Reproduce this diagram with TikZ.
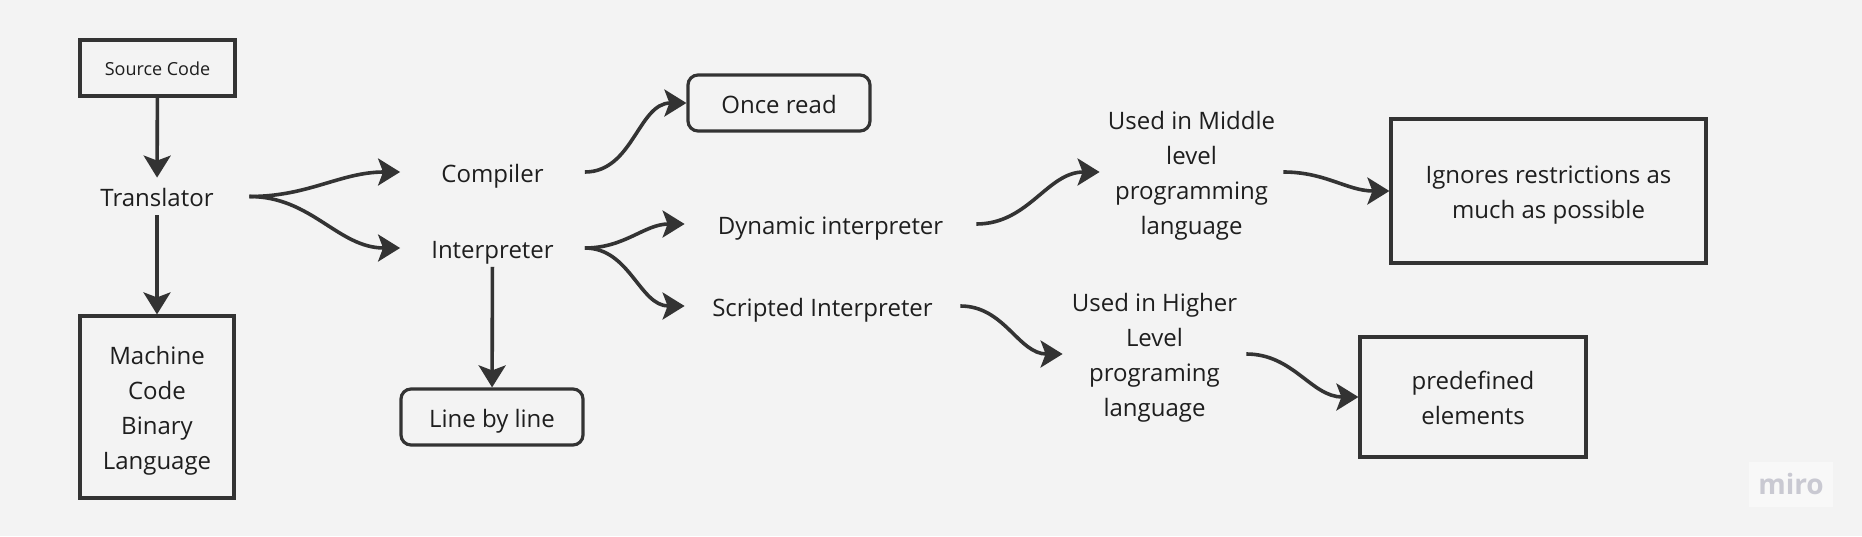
\documentclass[tikz,border=0pt]{standalone}
\usepackage{fontspec}
\setmainfont{Open Sans}
\usepackage{xcolor}
\usetikzlibrary{positioning,calc,arrows.meta}

\definecolor{bgcol}{HTML}{F3F3F3}
\definecolor{inkcol}{HTML}{333333}
\definecolor{textcol}{HTML}{1E1E1E}
\definecolor{mirocol}{HTML}{C9C9D2}

\begin{document}
\begin{tikzpicture}[
    x=0.5pt, y=-0.5pt,
    every node/.style={text=textcol, font=\fontsize{12}{17.5}\selectfont},
    oneline/.style={text height=13.4pt, text depth=3pt},
    twolines/.style={text height=30.9pt, text depth=3pt},
    fourlines/.style={text height=65.9pt, text depth=3pt},
    box/.style={rectangle, draw=inkcol, line width=1.6pt, align=center, inner sep=0pt},
    roundbox/.style={box, rounded corners=5pt},
    word/.style={rectangle, align=center, inner sep=0pt, minimum height=18.5pt},
    arrow/.style={-{Stealth[length=11pt, width=13.5pt, inset=2.5pt]}, draw=inkcol, line width=1.8pt}
]

% background and margins
\fill[bgcol] (0,0) rectangle (1862,536);

% left column
\node[box, oneline, minimum width=77.5pt, minimum height=28pt, font=\fontsize{9}{12}\selectfont, text height=10pt, text depth=2.2pt] (source) at (157.5,68) {Source Code};
\node[word, oneline, minimum width=92pt] (translator) at (157,196.5) {Translator};
\node[box, fourlines, minimum width=77pt, minimum height=91pt] (machine) at (157,407) {Machine\\Code\\Binary\\Language};

% compiler / interpreter
\node[word, oneline, minimum width=92pt] (compiler) at (492.5,172) {Compiler};
\node[word, oneline, minimum width=92pt] (interp) at (492.5,248) {Interpreter};
\node[roundbox, oneline, minimum width=91pt, minimum height=28pt] (linebyline) at (492,417) {Line by line};
\node[roundbox, oneline, minimum width=91pt, minimum height=28pt] (onceread) at (779,103) {Once read};

% kinds of interpreter
\node[word, oneline, minimum width=145.5pt] (dynamic) at (830.5,224) {Dynamic interpreter};
\node[word, oneline, minimum width=137.5pt] (scripted) at (822.5,306) {Scripted Interpreter};

\node[word, fourlines, minimum width=91.5pt] (middle) at (1191.5,172) {Used in Middle\\level\\programming\\language};
\node[word, fourlines, minimum width=91.5pt] (higher) at (1154.5,354) {Used in Higher\\Level\\programing\\language};

\node[box, twolines, minimum width=157.5pt, minimum height=72pt] (ignores) at (1548.5,191) {Ignores restrictions as\\much as possible};
\node[box, twolines, minimum width=113pt, minimum height=60pt] (predef) at (1473,397) {predefined\\elements};

% watermark
\node[fill=white!40!bgcol, minimum width=42pt, minimum height=22.5pt, inner sep=0pt, text=mirocol, font=\fontsize{14}{16}\selectfont\bfseries] (miro) at (1791,484) {miro};

\draw[arrow] (source) -- (translator);
\draw[arrow] (translator) -- (machine);
\draw[arrow] (translator.east) to[out=0, in=180] (compiler.west);
\draw[arrow] (translator.east) to[out=0, in=180] (interp.west);
\draw[arrow] (interp) -- (linebyline);
\draw[arrow] (compiler.east) to[out=0, in=180] (onceread.west);
\draw[arrow] (interp.east) to[out=0, in=180] (dynamic.west);
\draw[arrow] (interp.east) to[out=0, in=180] (scripted.west);
\draw[arrow] (dynamic.east) to[out=0, in=180] (middle.west);
\draw[arrow] (middle.east) to[out=0, in=180] (ignores.west);
\draw[arrow] (scripted.east) to[out=0, in=180] (higher.west);
\draw[arrow] (higher.east) to[out=0, in=180] (predef.west);

\end{tikzpicture}
\end{document}
